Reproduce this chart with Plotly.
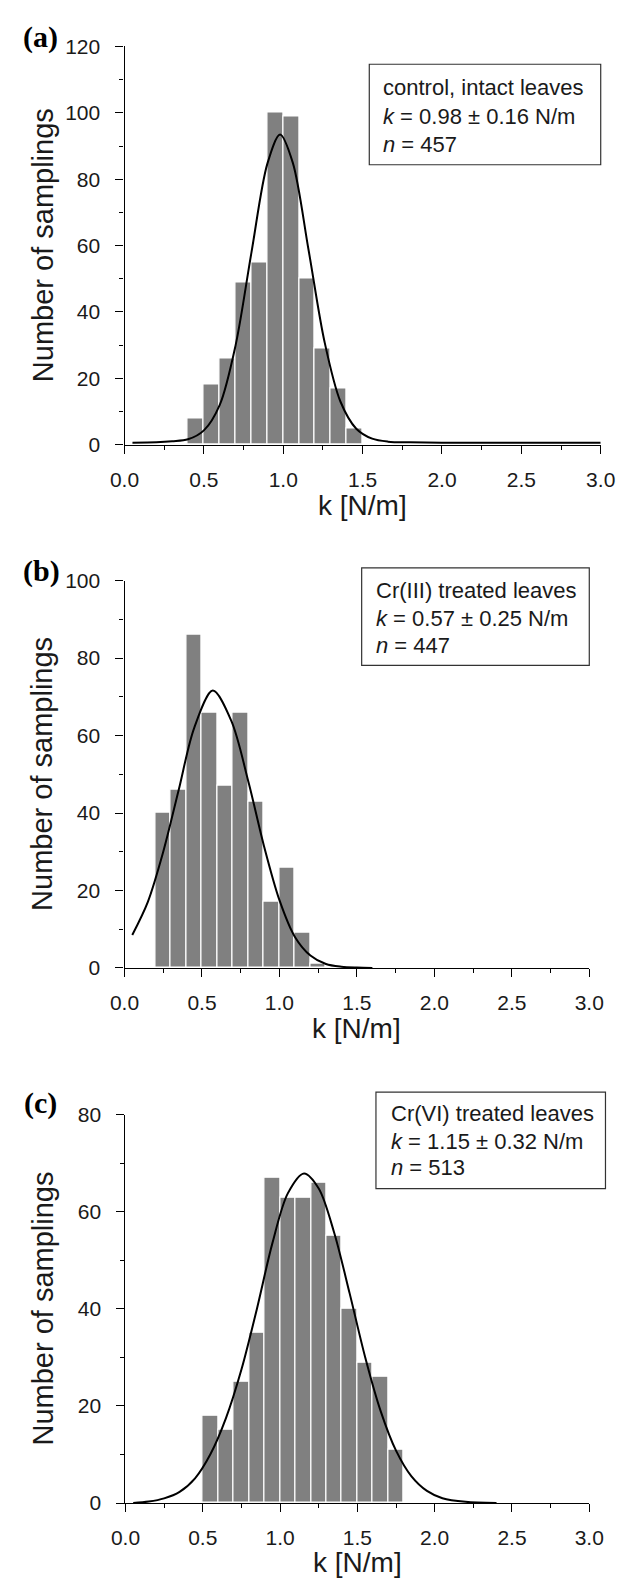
import plotly.graph_objects as go

# ---------------- data ----------------
bin_centers_a = [0.45, 0.55, 0.65, 0.75, 0.85, 0.95, 1.05, 1.15, 1.25, 1.35, 1.45]
counts_a = [8, 18, 26, 49, 55, 100, 99, 50, 29, 17, 5]
fit_k_a = [0.05, 0.2, 0.3, 0.4, 0.5, 0.6, 0.7, 0.8, 0.9, 0.98, 1.06, 1.16, 1.26, 1.36,
           1.46, 1.56, 1.66, 1.8, 2.0, 2.5, 3.0]
fit_n_a = [0.6, 0.7, 1.0, 1.6, 4.3, 12, 30, 58, 84.7, 93.5, 85, 58.5, 31, 13,
           4.8, 1.8, 0.9, 0.7, 0.6, 0.6, 0.6]

bin_centers_b = [0.25, 0.35, 0.45, 0.55, 0.65, 0.75, 0.85, 0.95, 1.05, 1.15, 1.25]
counts_b = [40, 46, 86, 66, 47, 66, 43, 17, 26, 9, 1]
fit_k_b = [0.05, 0.15, 0.25, 0.35, 0.45, 0.57, 0.69, 0.8, 0.9, 1.0, 1.1, 1.2, 1.3, 1.4, 1.5, 1.6]
fit_n_b = [8.5, 17, 30, 46, 62, 71.6, 63.7, 48, 31.5, 17.5, 8, 3.2, 1.0, 0.3, 0.08, 0]

bin_centers_c = [0.55, 0.65, 0.75, 0.85, 0.95, 1.05, 1.15, 1.25, 1.35, 1.45, 1.55, 1.65, 1.75]
counts_c = [18, 15, 25, 35, 67, 63, 63, 66, 55, 40, 29, 26, 11]
fit_k_c = [0.05, 0.15, 0.25, 0.35, 0.45, 0.55, 0.65, 0.75, 0.85, 0.95, 1.05, 1.155, 1.25,
           1.35, 1.45, 1.55, 1.65, 1.75, 1.85, 1.95, 2.05, 2.2, 2.4]
fit_n_c = [0, 0.3, 0.96, 2.3, 5.1, 10.1, 17.5, 27.5, 40, 53.5, 63.8, 67.9, 64.8,
           55.7, 43.2, 30.1, 19.0, 10.8, 5.5, 2.5, 1.0, 0.25, 0]

x_ticks = [0.0, 0.5, 1.0, 1.5, 2.0, 2.5, 3.0]
y_max = [120, 100, 80]
legend_lines = [
    ["control, intact leaves", "<i>k</i> = 0.98 \u00b1 0.16 N/m", "<i>n</i> = 457"],
    ["Cr(III) treated leaves", "<i>k</i> = 0.57 \u00b1 0.25 N/m", "<i>n</i> = 447"],
    ["Cr(VI) treated leaves", "<i>k</i> = 1.15 \u00b1 0.32 N/m", "<i>n</i> = 513"],
]
panel_labels = ["(a)", "(b)", "(c)"]
x_title = "k [N/m]"
y_title = "Number of samplings"

# ---------------- layout geometry (pixels) ----------------
W, H = 630, 1585
# plot areas: (left, right, top, bottom) in px
areas = [(115, 615, 35, 439), (115, 603, 577, 970), (116, 603, 1119, 1513)]
# legend boxes (x0, x1, y0, y1) px ; text left px ; line y px
boxes = [(372, 615, 53, 155), (364, 603, 564, 663), (379, 620, 1096, 1194)]
text_left = [384, 377, 393]
text_y = [(77, 106, 134), (587, 615, 643), (1118, 1146, 1173)]
label_pos = [(27, 25), (28, 567), (27, 1107)]
xtitle_y = [501, 1031, 1573]
ytitle_x = 29

def px(x):
    return x / W

def py(y):
    return 1 - y / H

FONT = "Arial, Liberation Sans, sans-serif"
fig = go.Figure()

series = [
    (bin_centers_a, counts_a, fit_k_a, fit_n_a),
    (bin_centers_b, counts_b, fit_k_b, fit_n_b),
    (bin_centers_c, counts_c, fit_k_c, fit_n_c),
]

annotations = []
shapes = []
for i, (bc, cnt, fk, fn) in enumerate(series):
    xa = "x" if i == 0 else f"x{i+1}"
    ya = "y" if i == 0 else f"y{i+1}"
    fig.add_trace(go.Bar(x=bc, y=cnt, width=0.1, xaxis=xa, yaxis=ya,
                         marker=dict(color="#808080", line=dict(color="white", width=1.2)),
                         showlegend=False))
    fig.add_trace(go.Scatter(x=fk, y=fn, mode="lines", xaxis=xa, yaxis=ya,
                             line=dict(color="black", width=2, shape="spline", smoothing=0.9),
                             showlegend=False, cliponaxis=False))
    l, r, t, b = areas[i]
    xkey = "xaxis" if i == 0 else f"xaxis{i+1}"
    ykey = "yaxis" if i == 0 else f"yaxis{i+1}"
    fig.layout[xkey] = dict(
        domain=[px(l), px(r)], anchor=ya, range=[0, 3], tickvals=x_ticks,
        ticktext=[f"{v:.1f}" for v in x_ticks],
        showline=True, linecolor="black", linewidth=1.3, ticks="outside", ticklen=8,
        tickwidth=1.3, tickcolor="black", showgrid=False, zeroline=False,
        tickfont=dict(family=FONT, size=21, color="#1a1a1a"), ticklabelstandoff=8,
        minor=dict(dtick=0.25, ticks="outside", ticklen=4, tickcolor="black", tickwidth=1.2,
                   showgrid=False),
    )
    fig.layout[ykey] = dict(
        domain=[py(b), py(t)], anchor=xa, range=[0, y_max[i]], dtick=20,
        showline=True, linecolor="black", linewidth=1.3, ticks="outside", ticklen=8,
        tickwidth=1.3, tickcolor="black", showgrid=False, zeroline=False,
        tickfont=dict(family=FONT, size=21, color="#1a1a1a"), ticklabelstandoff=11,
        minor=dict(dtick=10, ticks="outside", ticklen=4, tickcolor="black", tickwidth=1.2,
                   showgrid=False),
    )
    # legend box
    bx0, bx1, by0, by1 = boxes[i]
    shapes.append(dict(type="rect", xref="paper", yref="paper",
                       x0=px(bx0), x1=px(bx1), y0=py(by1), y1=py(by0),
                       line=dict(color="#333333", width=1.2), fillcolor="rgba(0,0,0,0)",
                       layer="above"))
    for j, line in enumerate(legend_lines[i]):
        annotations.append(dict(xref="paper", yref="paper", x=px(text_left[i]), y=py(text_y[i][j]),
                                text=line, showarrow=False, xanchor="left", yanchor="middle",
                                font=dict(family=FONT, size=22, color="#1a1a1a")))
    # panel label
    lx, ly = label_pos[i]
    annotations.append(dict(xref="paper", yref="paper", x=px(lx), y=py(ly), text=f"<b>{panel_labels[i]}</b>",
                            showarrow=False, xanchor="center", yanchor="middle",
                            font=dict(family="Liberation Serif, Times New Roman, serif", size=30,
                                      color="black")))
    # axis titles
    annotations.append(dict(xref="paper", yref="paper", x=px((l + r) / 2), y=py(xtitle_y[i]),
                            text=x_title, showarrow=False, xanchor="center", yanchor="middle",
                            font=dict(family=FONT, size=28, color="#1a1a1a")))
    annotations.append(dict(xref="paper", yref="paper", x=px(ytitle_x), y=py((t + b) / 2),
                            text=y_title, showarrow=False, xanchor="center", yanchor="middle",
                            textangle=-90,
                            font=dict(family=FONT, size=29, color="#1a1a1a")))

fig.update_layout(
    width=W, height=H, margin=dict(l=0, r=0, t=0, b=0),
    paper_bgcolor="white", plot_bgcolor="white",
    bargap=0, annotations=annotations, shapes=shapes, showlegend=False,
)

fig.write_html("out.html")
